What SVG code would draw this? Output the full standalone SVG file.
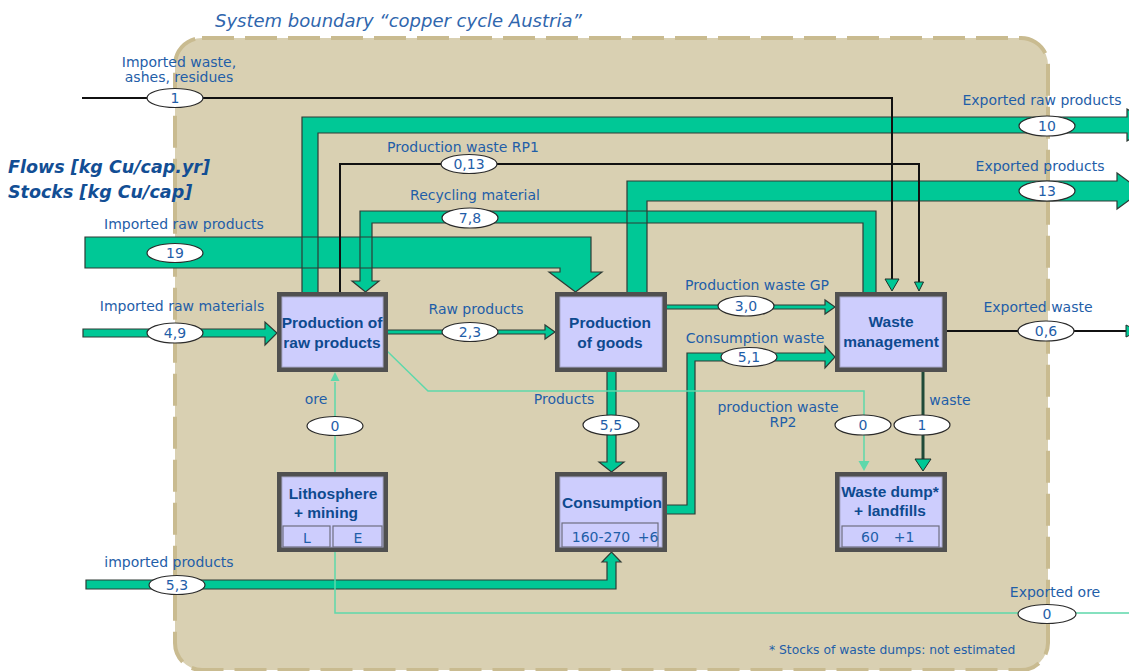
<svg xmlns="http://www.w3.org/2000/svg" xmlns:xlink="http://www.w3.org/1999/xlink" width="1129" height="671" viewBox="0 0 1129 671">
<style>
.bf{fill:#00c896;stroke:none}
.bo{fill:none;stroke:#2e3b35;stroke-width:1.2}
.thin{fill:none;stroke:#111;stroke-width:2}
.light{fill:none;stroke:#5ed8ab;stroke-width:1.5}
.dk{fill:none;stroke:#1f4a38;stroke-width:3}
.ah{fill:#00c896;stroke:#1e2e28;stroke-width:1}
.ahl{fill:#5ed8ab;stroke:none}
.ell{fill:#fff;stroke:#2b2b2b;stroke-width:1.2}
.val{font-family:"DejaVu Sans",sans-serif;font-size:14px;fill:#1f5ea8;text-anchor:middle}
.lbl{font-family:"DejaVu Sans",sans-serif;font-size:14px;fill:#1f5ea8;text-anchor:middle}
.nt{font-family:"Liberation Sans",Arial,sans-serif;font-size:15.5px;font-weight:bold;fill:#0e4a8f;text-anchor:middle}
.st{font-family:"DejaVu Sans",sans-serif;font-size:14px;fill:#1f5ea8;text-anchor:middle}
.outer{fill:#505050}
.inner{fill:#cdcdfd;stroke:#a9a9cc;stroke-width:1}
.sub{fill:#cdcdfd;stroke:#6e6e80;stroke-width:1.2}
</style>
<defs>
<path id="b1" d="M302,294 V117 H1127 V109 L1152,125 L1127,141 V133 H318 V294 Z"/>
<path id="b2" d="M627,294 V181 H1117 V173 L1142,191 L1117,209 V201 H647 V294 Z"/>
<path id="b3" d="M876,294 V211 H360 V281 H352 L365.5,292 L379,281 H372 V223 H863 V294 Z"/>
<path id="b4" d="M85,237 H591 V272 H602 L575.5,292 L549,272 H560 V268 H85 Z"/>
<path id="b5" d="M83,329 H265 V322 L277,333 L265,345 V337 H83 Z"/>
<path id="b6" d="M386,330 H545 V325 L555,332 L545,339 V334 H386 Z"/>
<path id="b7" d="M665,305 H825 V300 L835,307 L825,314 V309 H665 Z"/>
<path id="b8" d="M665,505 H687 V353 H825 V346 L835,357 L825,368 V361 H695 V514 H665 Z"/>
<path id="b9" d="M607,370 V462 H599 L611.5,472 L624,462 H616 V370 Z"/>
<path id="b10" d="M86,580 H607 V562 H602 L611.5,552 L621,562 H616 V589 H86 Z"/>
</defs>
<rect width="1129" height="671" fill="#fff"/>
<g id="boundary">
<rect x="175" y="38" width="873" height="632" rx="27" fill="#d9d0b2"/>
<rect x="175" y="38" width="873" height="632" rx="27" fill="none" stroke="#c9bb90" stroke-width="4" stroke-dasharray="32 11"/>
<text x="215" y="27" font-family="DejaVu Sans, sans-serif" font-size="18" font-style="italic" fill="#2f66ad">System boundary “copper cycle Austria”</text>
</g>
<g id="units" font-family="DejaVu Sans, sans-serif" font-size="17.5" font-weight="bold" font-style="italic" fill="#124e94">
<text x="8" y="173">Flows [kg Cu/cap.yr]</text>
<text x="8" y="198">Stocks [kg Cu/cap]</text>
</g>
<g id="connectors">
<use href="#b1" class="bf"/><use href="#b2" class="bf"/><use href="#b3" class="bf"/><use href="#b4" class="bf"/><use href="#b5" class="bf"/>
<use href="#b6" class="bf"/><use href="#b7" class="bf"/><use href="#b8" class="bf"/><use href="#b9" class="bf"/><use href="#b10" class="bf"/>
<use href="#b1" class="bo"/><use href="#b2" class="bo"/><use href="#b3" class="bo"/><use href="#b4" class="bo"/><use href="#b5" class="bo"/>
<use href="#b6" class="bo"/><use href="#b7" class="bo"/><use href="#b8" class="bo"/><use href="#b9" class="bo"/><use href="#b10" class="bo"/>
<path class="thin" d="M82,98 H892 V280"/>
<polygon class="ah" points="885,279 899,279 892,291"/>
<path class="thin" d="M340,294 V164 H919 V282"/>
<polygon class="ah" points="914.5,282 923.5,282 919,291"/>
<path class="thin" d="M945,331 H1127"/>
<polygon class="ah" points="1126,325 1138,331 1126,337"/>
<path class="dk" d="M923,370 V460"/>
<polygon class="ah" points="915,459 931,459 923,471"/>
<path class="light" d="M386,350 L428,391 H864 V462"/>
<polygon class="ahl" points="858.5,461 869.5,461 864,471"/>
<path class="light" d="M1129,613 H335 V382"/>
<polygon class="ahl" points="330.5,381 339.5,381 335,372"/>
</g>
<g id="node-raw">
<rect class="outer" x="277" y="292" width="111" height="80"/>
<rect class="inner" x="282" y="297" width="101" height="70"/>
<text class="nt" x="332" y="328">Production of</text>
<text class="nt" x="332" y="348">raw products</text>
</g>
<g id="node-goods">
<rect class="outer" x="555" y="292" width="112" height="80"/>
<rect class="inner" x="560" y="297" width="102" height="70"/>
<text class="nt" x="610" y="328">Production</text>
<text class="nt" x="610" y="348">of goods</text>
</g>
<g id="node-waste">
<rect class="outer" x="835" y="292" width="112" height="80"/>
<rect class="inner" x="840" y="297" width="102" height="70"/>
<text class="nt" x="891" y="327">Waste</text>
<text class="nt" x="891" y="347">management</text>
</g>
<g id="node-litho">
<rect class="outer" x="277" y="472" width="111" height="80"/>
<rect class="inner" x="282" y="477" width="101" height="70"/>
<text class="nt" x="333" y="499">Lithosphere</text>
<text class="nt" x="326" y="518">+ mining</text>
<rect class="sub" x="283" y="526" width="47" height="21"/>
<rect class="sub" x="333" y="526" width="49" height="21"/>
<text class="st" x="307" y="543">L</text>
<text class="st" x="358" y="543">E</text>
</g>
<g id="node-consumption">
<rect class="outer" x="555" y="472" width="112" height="80"/>
<rect class="inner" x="560" y="477" width="102" height="70"/>
<text class="nt" x="612" y="508">Consumption</text>
<rect class="sub" x="562" y="523" width="96" height="24"/>
<text class="st" x="601" y="542">160-270</text>
<text class="st" x="648" y="542">+6</text>
</g>
<g id="node-dump">
<rect class="outer" x="835" y="472" width="112" height="80"/>
<rect class="inner" x="840" y="477" width="102" height="70"/>
<text class="nt" x="890" y="497">Waste dump*</text>
<text class="nt" x="890" y="516">+ landfills</text>
<rect class="sub" x="842" y="526" width="97" height="21"/>
<text class="st" x="870" y="542">60</text>
<text class="st" x="904" y="542">+1</text>
</g>
<g id="values">
<ellipse class="ell" cx="175" cy="98" rx="28" ry="9.5"/><text class="val" x="175" y="103">1</text>
<ellipse class="ell" cx="1047" cy="126" rx="28" ry="10"/><text class="val" x="1047" y="131">10</text>
<ellipse class="ell" cx="469" cy="164" rx="28" ry="9.5"/><text class="val" x="469" y="169">0,13</text>
<ellipse class="ell" cx="470" cy="218" rx="28" ry="10"/><text class="val" x="470" y="223">7,8</text>
<ellipse class="ell" cx="1047" cy="191" rx="28" ry="10"/><text class="val" x="1047" y="196">13</text>
<ellipse class="ell" cx="175" cy="253" rx="28" ry="9.5"/><text class="val" x="175" y="258">19</text>
<ellipse class="ell" cx="175" cy="333" rx="28" ry="10"/><text class="val" x="175" y="338">4,9</text>
<ellipse class="ell" cx="470" cy="332" rx="28" ry="9.5"/><text class="val" x="470" y="337">2,3</text>
<ellipse class="ell" cx="746" cy="306" rx="28" ry="10"/><text class="val" x="746" y="311">3,0</text>
<ellipse class="ell" cx="749" cy="357" rx="28" ry="9.5"/><text class="val" x="749" y="362">5,1</text>
<ellipse class="ell" cx="611" cy="425" rx="28" ry="10"/><text class="val" x="611" y="430">5,5</text>
<ellipse class="ell" cx="335" cy="426" rx="28" ry="9.5"/><text class="val" x="335" y="431">0</text>
<ellipse class="ell" cx="1046" cy="331" rx="28" ry="10"/><text class="val" x="1046" y="336">0,6</text>
<ellipse class="ell" cx="863" cy="425" rx="28" ry="10"/><text class="val" x="863" y="430">0</text>
<ellipse class="ell" cx="922" cy="425" rx="28" ry="10"/><text class="val" x="922" y="430">1</text>
<ellipse class="ell" cx="177" cy="585" rx="28" ry="9.5"/><text class="val" x="177" y="590">5,3</text>
<ellipse class="ell" cx="1047" cy="614" rx="29" ry="9.5"/><text class="val" x="1047" y="619">0</text>
</g>
<g id="labels">
<text class="lbl" x="179" y="67" font-size="13.5">Imported waste,</text>
<text class="lbl" x="179" y="82" font-size="13.5">ashes, residues</text>
<text class="lbl" x="1042" y="105">Exported raw products</text>
<text class="lbl" x="463" y="152">Production waste RP1</text>
<text class="lbl" x="475" y="200">Recycling material</text>
<text class="lbl" x="1040" y="171">Exported products</text>
<text class="lbl" x="184" y="229">Imported raw products</text>
<text class="lbl" x="182" y="311">Imported raw materials</text>
<text class="lbl" x="476" y="314">Raw products</text>
<text class="lbl" x="757" y="290">Production waste GP</text>
<text class="lbl" x="755" y="343">Consumption waste</text>
<text class="lbl" x="564" y="404">Products</text>
<text class="lbl" x="778" y="412">production waste</text>
<text class="lbl" x="783" y="427">RP2</text>
<text class="lbl" x="1038" y="312">Exported waste</text>
<text class="lbl" x="950" y="405">waste</text>
<text class="lbl" x="316" y="404">ore</text>
<text class="lbl" x="169" y="567">imported products</text>
<text class="lbl" x="1055" y="597">Exported ore</text>
<text x="769" y="654" font-family="DejaVu Sans, sans-serif" font-size="12.3" fill="#1f5ea8">* Stocks of waste dumps: not estimated</text>
</g>
</svg>
